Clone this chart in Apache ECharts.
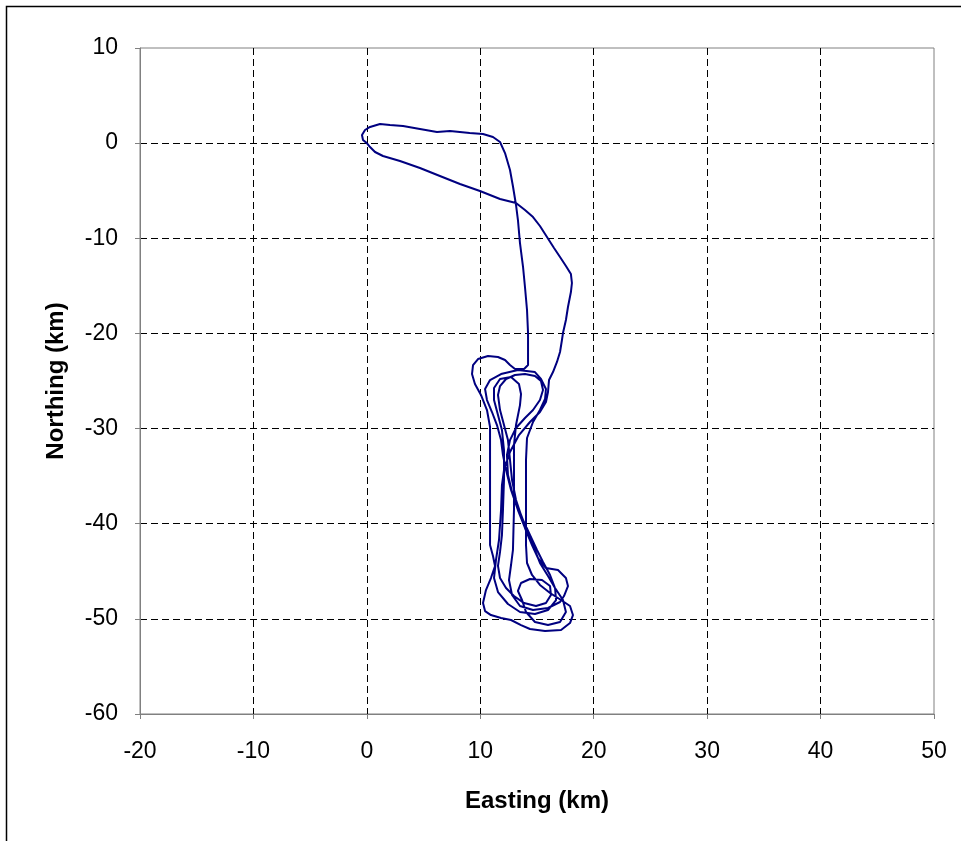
<!DOCTYPE html>
<html>
<head>
<meta charset="utf-8">
<script src="https://cdn.jsdelivr.net/npm/echarts@6/dist/echarts.min.js"></script>
<style>
html,body{margin:0;padding:0;background:#fff;}
#chart{width:961px;height:841px;}
</style>
</head>
<body>
<div id="chart"></div>
<script>
// Track data: [Easting km, Northing km]
const outboundLeg = [
  [0,0],[-0.34,0.33],[-0.43,0.86],[-0.16,1.38],[0.28,1.70],[1.16,2.01],[2.04,1.91],
  [3.19,1.80],[4.68,1.49],[6.18,1.17],[7.33,1.28],[9.07,1.07],[10.24,0.96],[11.12,0.65],
  [11.74,0.12],[12.18,-1.04],[12.62,-2.82],[12.89,-4.61],[13.15,-6.50],[13.32,-8.08],
  [13.50,-10.50],[13.77,-13.02],[13.94,-15.12],[14.12,-17.54],[14.21,-19.96],[14.21,-21.75],
  [14.21,-23.32]
];
const circuit1 = [
  [13.86,-23.74],[13.06,-23.74],[12.62,-23.32],[12.18,-22.79],[11.56,-22.48],[10.68,-22.37],
  [9.80,-22.69],[9.36,-23.32],[9.27,-24.27],[9.53,-25.32],[10.06,-26.47],[10.59,-28.05],
  [10.86,-29.84],[10.86,-34.36],[10.86,-38.56],[10.86,-42.24],[11.12,-43.39],[11.30,-44.44],
  [10.94,-45.71],[10.50,-46.97],[10.24,-48.34],[10.42,-49.18],[10.94,-49.60],[11.83,-49.91],
  [12.71,-50.12],[13.59,-50.65],[14.38,-51.07],[15.71,-51.28],[17.12,-51.17],[17.91,-50.44],
  [18.17,-49.60],[17.91,-48.65],[17.12,-48.02],[16.15,-47.28],[15.26,-46.44],[14.56,-45.39],
  [14.12,-44.13],[14.03,-42.24],[14.03,-37.51],[14.03,-33.30],[14.12,-30.99],[14.65,-29.31],
  [15.26,-28.05],[15.71,-26.89],[15.79,-25.84],[15.35,-24.79],[14.82,-24.06],[13.32,-23.85],
  [11.83,-24.27],[10.86,-24.90],[10.42,-25.84]
];
const circuit2 = [
  [10.59,-27.00],[11.03,-28.26],[11.47,-29.63],[11.83,-31.21],[12.00,-32.78],[12.27,-34.36],
  [12.71,-36.46],[13.32,-38.56],[13.94,-40.45],[14.56,-42.24],[15.09,-43.61],[15.79,-44.66],
  [16.85,-44.87],[17.55,-45.71],[17.73,-46.55],[17.38,-47.60],[17.03,-48.23],[15.97,-48.86],
  [14.65,-49.07],[13.50,-48.65],[12.80,-47.49],[12.53,-45.92],[12.71,-44.34],[12.88,-42.76],
  [12.97,-38.56],[12.97,-34.36],[12.97,-31.73],[13.15,-29.63],[13.50,-27.53],[13.59,-26.37],
  [13.41,-25.32],[12.71,-24.58],[11.74,-24.79],[11.21,-25.74]
];
const circuit3 = [
  [11.21,-27.00],[11.56,-28.58],[11.91,-30.15],[12.09,-32.25],[12.09,-35.41],[12.00,-38.56],
  [11.91,-41.19],[11.74,-42.97],[11.56,-44.44],[11.74,-45.71],[12.27,-46.76],[12.97,-47.60],
  [13.86,-48.34],[14.91,-48.65],[15.79,-48.34],[16.23,-47.49],[16.15,-46.55],[15.44,-45.92],
  [14.38,-45.81],[13.59,-46.23],[13.32,-47.07],[13.68,-48.02],[14.03,-49.28],[14.82,-50.33],
  [15.97,-50.65],[17.03,-50.33],[17.55,-49.28],[17.29,-48.02],[16.59,-46.76],[15.97,-45.50],
  [15.26,-44.13],[14.65,-42.24],[13.94,-40.14],[13.32,-38.24],[12.80,-36.67],[12.44,-34.88],
  [12.35,-32.78],[12.62,-31.21],[13.15,-29.94],[13.94,-28.89],[14.65,-28.05],[15.26,-27.00],
  [15.53,-25.95],[15.35,-25.00],[14.82,-24.48],[13.94,-24.27],[13.06,-24.37],[12.27,-24.79],
  [11.74,-25.53],[11.56,-26.47]
];
const circuit4 = [
  [11.74,-28.05],[12.09,-29.63],[12.44,-31.21],[12.62,-33.30],[12.80,-35.41],[13.15,-37.51],
  [13.68,-39.40],[14.38,-41.19],[15.00,-42.76],[15.53,-44.02],[16.15,-45.39],[16.59,-46.76],
  [16.68,-48.02],[15.97,-49.07],[14.82,-49.49],[13.50,-49.28],[12.44,-48.44],[11.56,-47.18],
  [11.21,-45.71],[11.38,-43.82],[11.65,-41.71],[11.83,-38.56],[11.91,-35.94],[12.09,-34.36],
  [12.62,-32.46],[13.41,-30.68],[14.38,-29.31],[15.26,-28.26],[15.79,-27.21],[15.97,-26.16],
  [16.06,-24.90],[16.41,-24.06],[16.76,-23.00],[17.03,-21.95],[17.20,-20.69]
];
const returnLeg = [
  [17.29,-19.96],[17.55,-18.59],[17.73,-17.22],[17.99,-15.65],[18.08,-14.70],[17.99,-13.76],
  [17.55,-12.91],[17.03,-11.97],[16.50,-11.02],[15.88,-9.86],[15.26,-8.71],[14.65,-7.77],
  [13.94,-7.03],[13.15,-6.29],[11.74,-5.87],[9.97,-5.03],[8.21,-4.29],[6.44,-3.45],
  [4.68,-2.61],[2.92,-1.88],[1.42,-1.35],[0.72,-0.93],[0.28,-0.41],[0,0]
];
const xTickValues = [-20,-10,0,10,20,30,40,50];
const yTickValues = [-60,-50,-40,-30,-20,-10,0,10];

const track = [].concat(outboundLeg, circuit1, circuit2, circuit3, circuit4, returnLeg);

const chart = echarts.init(document.getElementById('chart'), null, {renderer:'canvas'});
const FONT = '"Liberation Sans", Arial, sans-serif';
chart.setOption({
  animation: false,
  backgroundColor: '#ffffff',
  graphic: [{
    type: 'rect', silent: true, z: 100,
    shape: {x: 6.5, y: 6.5, width: 1000, height: 900},
    style: {fill: 'none', stroke: '#000', lineWidth: 1.5}
  }],
  grid: {left: 140, top: 48, width: 794, height: 666, show: true,
         borderColor: '#808080', borderWidth: 1, backgroundColor: '#fff'},
  xAxis: {
    type: 'value', min: xTickValues[0], max: xTickValues[xTickValues.length-1], interval: 10,
    name: 'Easting (km)', nameLocation: 'middle', nameGap: 75,
    nameTextStyle: {fontFamily: FONT, fontSize: 24, fontWeight: 'bold', color: '#000'},
    axisLine: {show: true, onZero: false, lineStyle: {color: '#808080', width: 1}},
    axisTick: {show: true, inside: false, length: 5, lineStyle: {color: '#808080'}},
    axisLabel: {fontFamily: FONT, fontSize: 23, color: '#000', margin: 26},
    splitLine: {show: true, showMinLine: false, showMaxLine: false,
                lineStyle: {color: '#000', type: [7,4], width: 1}}
  },
  yAxis: {
    type: 'value', min: yTickValues[0], max: yTickValues[yTickValues.length-1], interval: 10,
    name: 'Northing (km)', nameLocation: 'middle', nameGap: 72, nameRotate: 90,
    nameTextStyle: {fontFamily: FONT, fontSize: 24, fontWeight: 'bold', color: '#000'},
    axisLine: {show: true, onZero: false, lineStyle: {color: '#808080', width: 1}},
    axisTick: {show: true, inside: false, length: 5, lineStyle: {color: '#808080'}},
    axisLabel: {fontFamily: FONT, fontSize: 23, color: '#000', margin: 22},
    splitLine: {show: true, showMaxLine: false,
                lineStyle: {color: '#000', type: [7,4], width: 1}}
  },
  series: [{
    type: 'line', data: track, showSymbol: false, symbol: 'none', smooth: false,
    lineStyle: {color: '#000080', width: 2}, clip: true
  }]
});
</script>
</body>
</html>
